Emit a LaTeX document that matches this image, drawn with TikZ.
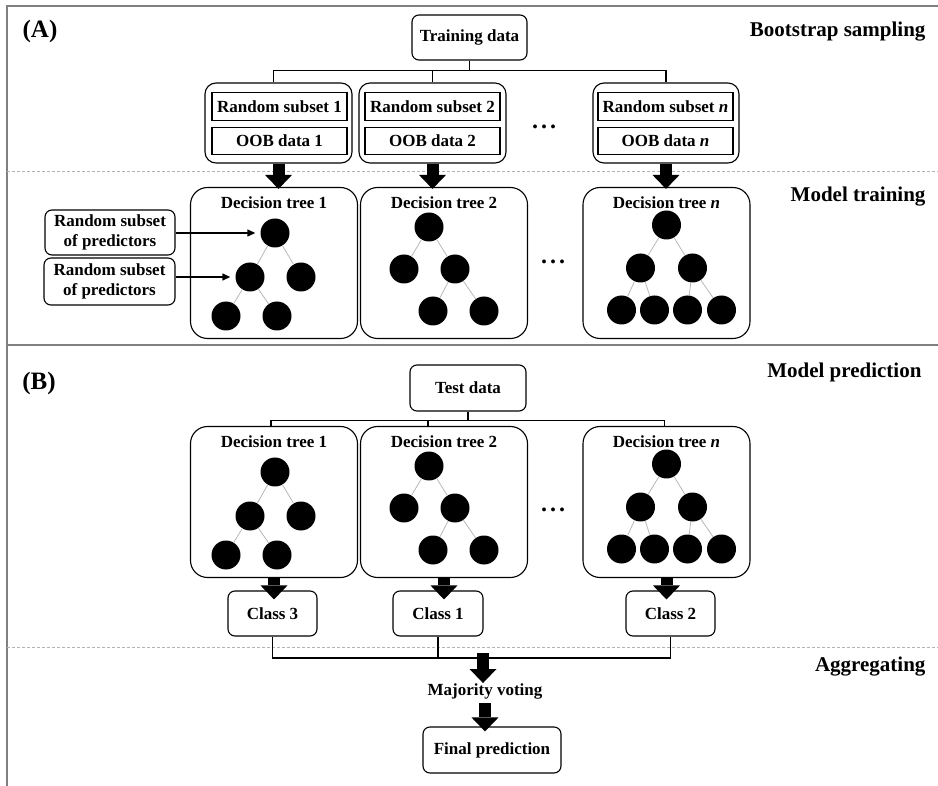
\documentclass[tikz,border=0pt]{standalone}
\usepackage{fontspec}
\setmainfont{Liberation Serif}
\usetikzlibrary{arrows.meta,positioning}
\tikzset{
    every node/.style={font=\bfseries\fontsize{17}{20}\selectfont},
    rbox/.style={draw,rounded corners=7pt,line width=1.1pt,inner sep=0pt,align=center},
    outbox/.style={draw,rounded corners=11pt,line width=1.1pt,minimum width=147pt,minimum height=80pt},
    subbox/.style={draw,line width=1.1pt,minimum width=135pt,minimum height=27.5pt,inner sep=0pt},
    treebox/.style={draw,rounded corners=17pt,line width=1.1pt,minimum width=167pt,minimum height=151pt},
    leaf/.style={circle,fill,inner sep=0pt,minimum size=29pt},
    twig/.style={draw=black!28,line width=0.8pt},
    bus/.style={line width=1.8pt},
    blk/.style={line width=12pt,-{Triangle[length=14pt,width=27pt,line width=0pt]}},
    ptr/.style={line width=1.4pt,-{Triangle[length=8pt,width=7pt]},shorten >=5pt},
    sect/.style={anchor=east,font=\bfseries\fontsize{21}{24}\selectfont},
    panel/.style={font=\bfseries\fontsize{25}{28}\selectfont},
    more/.style={font=\bfseries\fontsize{24}{24}\selectfont},
    frameline/.style={draw=black!50,line width=1.3pt},
    divider/.style={draw=black!30,line width=0.6pt,dash pattern=on 3pt off 2pt}
}
\begin{document}
\begin{tikzpicture}[x=1pt,y=-1pt]
    \useasboundingbox (0,0) rectangle (938,786);
    \draw[frameline] (7,786) -- (7,6) -- (938,6);
    \draw[frameline] (7,345) -- (938,345);
    \draw[divider] (7,171) -- (938,171);
    \draw[divider] (7,647) -- (938,647);

    \node[panel] (pa) at (40,31) {(A)};
    \node[panel] (pb) at (39,383) {(B)};
    \node[sect] (bs) at (929,32) {Bootstrap sampling};
    \node[sect] (mt) at (929,197) {Model training};
    \node[sect] (mp) at (925,372) {Model prediction};
    \node[sect] (ag) at (929,667) {Aggregating};

    % bootstrap sampling
    \node[rbox,minimum width=115pt,minimum height=45pt] (train) at (469.5,37.5) {Training data};
    \node[outbox] (o1) at (278.5,123) {};
    \node[outbox] (o2) at (432.5,123) {};
    \node[outbox,minimum width=146pt] (on) at (666,123) {};
    \node[subbox] (s1) at (279.5,106.5) {Random subset 1};
    \node[subbox,below=6pt of s1] (b1) {OOB data 1};
    \node[subbox] (s2) at (432.5,106.5) {Random subset 2};
    \node[subbox,below=6pt of s2] (b2) {OOB data 2};
    \node[subbox] (sn) at (665.5,106.5) {Random subset \textit{n}};
    \node[subbox,below=6pt of sn] (bn) {OOB data \textit{n}};
    \node[more] (dta) at (544,127) {.\kern3pt.\kern3pt.};
    \draw[bus] (train.south) -- ++(0,10) coordinate (tj);
    \draw[bus] ([xshift=-5pt]o1.north) |- (tj) -| (on.north);
    \draw[bus] (o2.north) -- (o2.north |- tj);

    % decision trees, training and prediction
    \foreach \p/\dy in {a/0,b/239}{
        \begin{scope}[shift={(0,\dy)}]
            \node[treebox] (\p dt1) at (274,263) {};
            \node[treebox] (\p dt2) at (444,263) {};
            \node[treebox] (\p dtn) at (666.5,263) {};
            \node at ([yshift=-16pt]\p dt1.north) {Decision tree 1};
            \node at ([yshift=-16pt]\p dt2.north) {Decision tree 2};
            \node at ([yshift=-16pt]\p dtn.north) {Decision tree \textit{n}};
            \node[leaf] (\p r1) at (275,233) {};
            \node[leaf] (\p l1) at (250,277) {};
            \node[leaf] (\p m1) at (301,277) {};
            \node[leaf] (\p u1) at (226,316) {};
            \node[leaf] (\p v1) at (277,316) {};
            \node[leaf] (\p r2) at (429,227) {};
            \node[leaf] (\p l2) at (404,269) {};
            \node[leaf] (\p m2) at (455,269) {};
            \node[leaf] (\p u2) at (433,311) {};
            \node[leaf] (\p v2) at (484,311) {};
            \node[leaf] (\p rn) at (666.5,225) {};
            \node[leaf] (\p ln) at (640.5,268) {};
            \node[leaf] (\p mn) at (692.5,268) {};
            \node[leaf] (\p un) at (621.5,310) {};
            \node[leaf] (\p vn) at (654.5,310) {};
            \node[leaf] (\p wn) at (687.5,310) {};
            \node[leaf] (\p zn) at (721.5,310) {};
            \draw[twig] (\p r1) -- (\p l1) (\p r1) -- (\p m1) (\p l1) -- (\p u1) (\p l1) -- (\p v1);
            \draw[twig] (\p r2) -- (\p l2) (\p r2) -- (\p m2) (\p m2) -- (\p u2) (\p m2) -- (\p v2);
            \draw[twig] (\p rn) -- (\p ln) (\p rn) -- (\p mn) (\p ln) -- (\p un) (\p ln) -- (\p vn)
                (\p mn) -- (\p wn) (\p mn) -- (\p zn);
        \end{scope}
    }
    \node[more] (dtb) at (553,262) {.\kern3pt.\kern3pt.};
    \node[more] (dtc) at (553,510) {.\kern3pt.\kern3pt.};

    \draw[blk,shorten >=-2pt] (o1.south) -- (o1.south |- adt1.north);
    \draw[blk,shorten >=-2pt] (o2.south) -- (o2.south |- adt2.north);
    \draw[blk,shorten >=-2pt] (on.south) -- (on.south |- adtn.north);

    \node[rbox,minimum width=130pt,minimum height=45pt] (pr1) at (110,232.5) {Random subset\\of predictors};
    \node[rbox,minimum width=131pt,minimum height=47pt] (pr2) at (109.5,281.5) {Random subset\\of predictors};
    \draw[ptr] (pr1.east |- ar1) -- (ar1);
    \draw[ptr] (pr2.east |- al1) -- (al1);

    % model prediction
    \node[rbox,minimum width=116pt,minimum height=46pt] (test) at (468,388) {Test data};
    \coordinate (d1) at ([xshift=-3pt]bdt1.north);
    \coordinate (d2) at ([xshift=-16pt]bdt2.north);
    \coordinate (dn) at ([xshift=-2pt]bdtn.north);
    \draw[bus] (test.south) -- ++(0,9) coordinate (sj);
    \draw[bus] (d1) |- (sj) -| (dn);
    \draw[bus] (d2) -- (d2 |- sj);

    \node[rbox,minimum width=89pt,minimum height=45pt] (c3) at (272.5,613.5) {Class 3};
    \node[rbox,minimum width=90pt,minimum height=45pt] (c1) at (438,613.5) {Class 1};
    \node[rbox,minimum width=89pt,minimum height=45pt] (c2) at (670.5,613.5) {Class 2};
    \draw[blk,shorten >=-9pt] (bdt1.south) -- (bdt1.south |- c3.north);
    \draw[blk,shorten >=-9pt] (bdt2.south) -- (bdt2.south |- c1.north);
    \draw[blk,shorten >=-9pt] (bdtn.south) -- (bdtn.south |- c2.north);

    % aggregating
    \draw[bus] (c3.south) -- ++(0,21.5) coordinate (vl) -| (c2.south);
    \draw[bus] (c1.south) -- (c1.south |- vl);
    \node[inner sep=0pt] (vote) at (485,691) {Majority voting};
    \node[rbox,minimum width=138pt,minimum height=46pt] (fin) at (492,750) {Final prediction};
    \coordinate (vj) at (483,653);
    \draw[blk] (vj) -- (vj |- vote.north);
    \draw[blk,shorten <=4pt,shorten >=-5pt] (vote.south) -- (vote.south |- fin.north);
\end{tikzpicture}
\end{document}
